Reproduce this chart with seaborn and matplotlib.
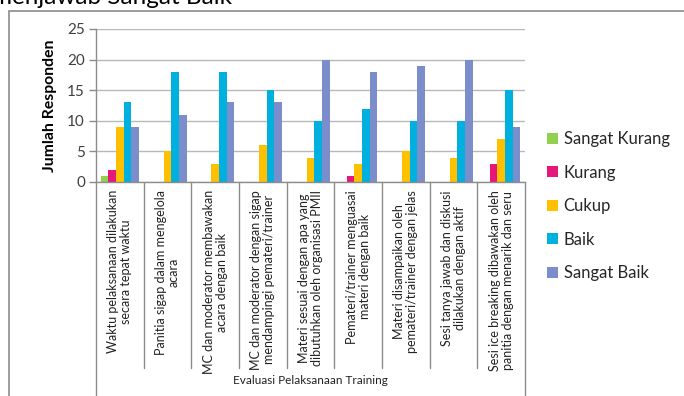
import matplotlib
matplotlib.use("Agg")
import matplotlib.pyplot as plt
import matplotlib.patches as mpatches
import matplotlib.transforms as mtransforms
import seaborn as sns
import pandas as pd

categories = [
    "Waktu pelaksanaan dilakukan\nsecara tepat waktu",
    "Panitia sigap dalam mengelola\nacara",
    "MC dan moderator membawakan\nacara dengan baik",
    "MC dan moderator dengan sigap\nmendampingi pemateri/trainer",
    "Materi sesuai dengan apa yang\ndibutuhkan oleh organisasi PMII",
    "Pemateri/trainer menguasai\nmateri dengan baik",
    "Materi disampaikan oleh\npemateri/trainer dengan jelas",
    "Sesi tanya jawab dan diskusi\ndilakukan dengan aktif",
    "Sesi ice breaking dibawakan oleh\npanitia dengan menarik dan seru",
]
series_names = ["Sangat Kurang", "Kurang", "Cukup", "Baik", "Sangat Baik"]
sangat_kurang = [1, 0, 0, 0, 0, 0, 0, 0, 0]
kurang = [2, 0, 0, 0, 0, 1, 0, 0, 3]
cukup = [9, 5, 3, 6, 4, 3, 5, 4, 7]
baik = [13, 18, 18, 15, 10, 12, 10, 10, 15]
sangat_baik = [9, 11, 13, 13, 20, 18, 19, 20, 9]
colors = ["#92D050", "#E6177A", "#FFC000", "#00B0DE", "#7B8DCB"]
y_ticks = [0, 5, 10, 15, 20, 25]
y_label = "Jumlah Responden"
x_group_label = "Evaluasi Pelaksanaan Training"
top_text = "menjawab Sangat Baik"

rows = []
for name, vals in zip(series_names, [sangat_kurang, kurang, cukup, baik, sangat_baik]):
    for c, v in zip(categories, vals):
        rows.append({"cat": c, "series": name, "value": v})
df = pd.DataFrame(rows)

sns.set_theme(style="white")
plt.rcParams["font.family"] = ["Lato", "DejaVu Sans"]

W, H = 684, 396
fig = plt.figure(figsize=(W / 100, H / 100), dpi=100)
ax_l, ax_r, ax_t, ax_b = 96, 525, 29, 182
ax = fig.add_axes([ax_l / W, 1 - ax_b / H, (ax_r - ax_l) / W, (ax_b - ax_t) / H])

sns.barplot(data=df, x="cat", y="value", hue="series", hue_order=series_names,
            palette=colors, width=0.8, ax=ax, legend=False, saturation=1,
            linewidth=0)

ax.set_xlim(-0.5, len(categories) - 0.5)
ax.set_ylim(0, 25)
ax.set_yticks(y_ticks)
ax.set_yticklabels([str(t) for t in y_ticks], fontsize=11, color="#404040")
ax.yaxis.grid(True, color="#B8B8B8", linewidth=1)
ax.set_axisbelow(True)
ax.tick_params(axis="y", length=5, color="#8c8c8c", width=1, pad=3, left=True)
ax.set_xticks([])
ax.set_xlabel("")
ax.set_ylabel(y_label, fontsize=11.3, fontweight="bold", color="#000000", labelpad=7)
for s in ["top", "right"]:
    ax.spines[s].set_visible(False)
for s in ["left", "bottom"]:
    ax.spines[s].set_color("#8c8c8c")
    ax.spines[s].set_linewidth(1)

ax_h = ax_b - ax_t
trans = mtransforms.blended_transform_factory(ax.transData, ax.transAxes)
for i, c in enumerate(categories):
    ax.text(i, -(190 - ax_b) / ax_h, c, rotation=90, ha="center", va="top",
            multialignment="center", fontsize=9, color="#222222", transform=trans,
            linespacing=1.1)

sep_bottom = -(368 - ax_b) / ax_h
out_bottom = -(400 - ax_b) / ax_h
for i in range(len(categories) + 1):
    xb = i - 0.5
    yb = out_bottom if i in (0, len(categories)) else sep_bottom
    ax.plot([xb, xb], [0, yb], color="#8c8c8c", lw=1, transform=trans, clip_on=False)

fig.text((ax_l + ax_r) / 2 / W, 1 - 381 / H, x_group_label, ha="center", va="center",
         fontsize=8.5, color="#222222")

handles = [mpatches.Patch(facecolor=col, edgecolor="none") for col in colors]
fig.legend(handles, series_names, loc="upper left",
           bbox_to_anchor=(547 / W, 1 - 131 / H), frameon=False, fontsize=12,
           handlelength=0.65, handleheight=0.65, handletextpad=0.35,
           labelspacing=1.05, borderpad=0, borderaxespad=0)

frame = mpatches.Rectangle((9 / W, -0.2), 1.5, 1 - 11 / H + 0.2, fill=False,
                           edgecolor="#8c8c8c", lw=1.2, transform=fig.transFigure,
                           clip_on=False)
fig.add_artist(frame)

fig.text(-8 / W, 1 - 4 / H, top_text, ha="left", va="baseline", fontsize=17.5,
         color="#000000")

fig.savefig("out.png", dpi=100)
